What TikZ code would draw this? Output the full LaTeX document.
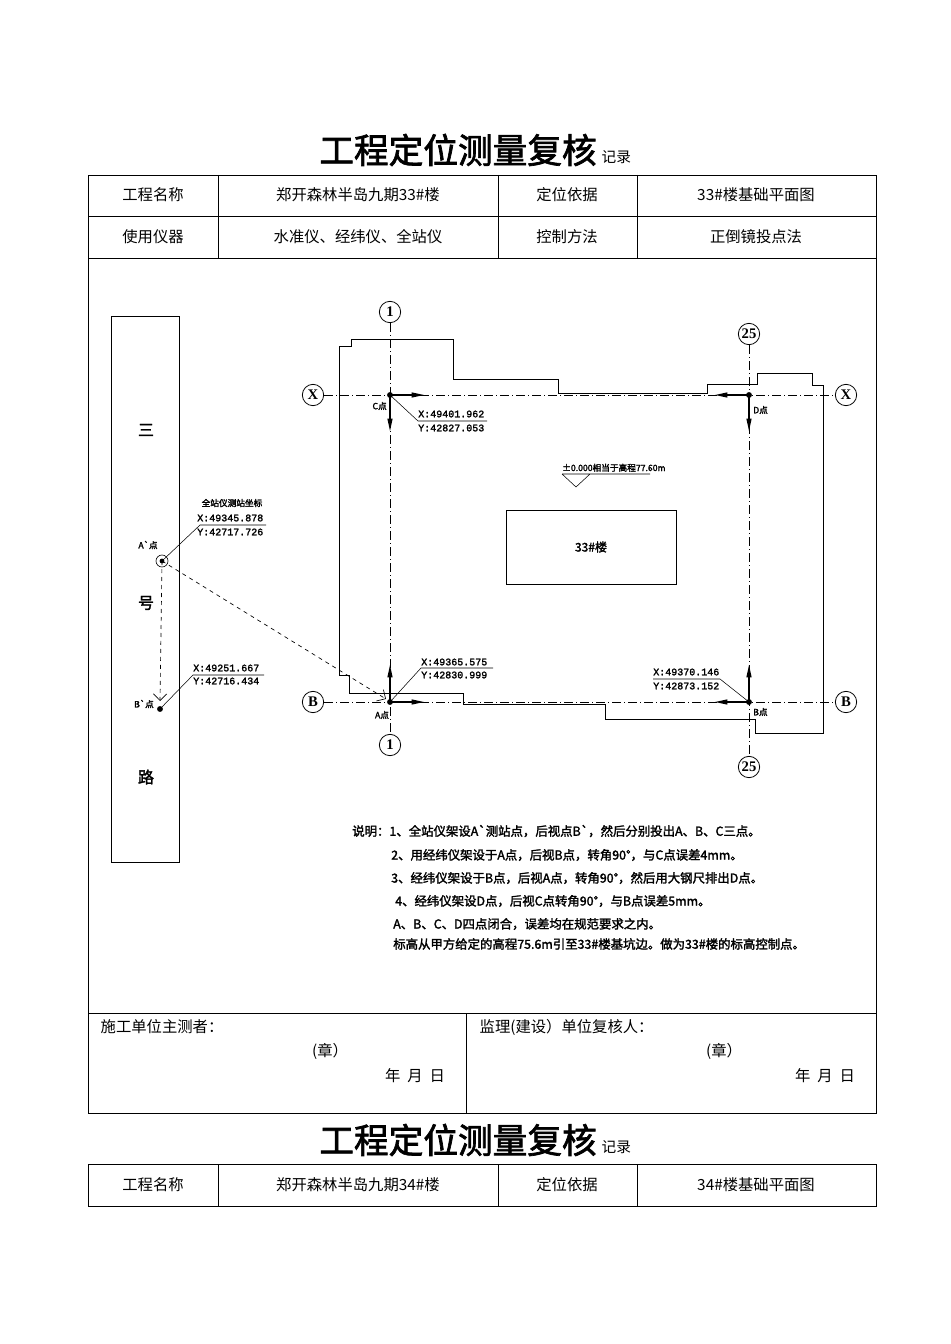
\documentclass[tikz,border=0pt]{standalone}
\usepackage{fontspec}
\setmainfont{Noto Sans CJK SC}[AutoFakeBold=2]
\newfontfamily\cmono{Liberation Mono}[AutoFakeBold=2]
\newfontfamily\cserif{Liberation Serif}
\usetikzlibrary{arrows.meta}
\begin{document}
\begin{tikzpicture}[x=0.75pt,y=-0.75pt,
  tline/.style={line width=0.6pt},
  cell/.style={font=\fontsize{11.5}{12}\selectfont},
  axis/.style={dash pattern=on 7pt off 2pt on 1pt off 2pt, line width=0.4pt},
  bub/.style={circle,draw,line width=0.6pt,minimum size=16pt,inner sep=0pt,font=\cserif\bfseries\fontsize{11}{11}\selectfont},
  outl/.style={line width=0.7pt},
  coord/.style={font=\cmono\bfseries\fontsize{7.5}{8}\selectfont,inner sep=0pt,anchor=west},
  small/.style={font=\bfseries\fontsize{6.5}{7}\selectfont,inner sep=0pt},
  arr/.style={-{Triangle[length=10pt,width=3.5pt]},line width=1.5pt},
  note/.style={font=\bfseries\fontsize{9.3}{10}\selectfont,anchor=west,inner sep=0pt}]
\useasboundingbox (0,0) rectangle (950,1344);
% titles
\node (t1) at (458,150) {\bfseries\fontsize{26}{28}\selectfont 工程定位测量复核};
\node[anchor=west,inner sep=0pt] (t1b) at (t1.east|-0,157) {\fontsize{11}{12}\selectfont 记录};
% table 1
\draw[tline] (88,175) rectangle (876,1113);
\draw[tline] (88,216)--(876,216) (88,258)--(876,258) (88,1013)--(876,1013);
\draw[tline] (218,175)--(218,258) (498,175)--(498,258) (637,175)--(637,258) (466,1013)--(466,1113);
\node[cell] (a1) at (153,195) {工程名称};
\node[cell] (a2) at (358,195) {郑开森林半岛九期33\#楼};
\node[cell] (a3) at (567,195) {定位依据};
\node[cell] (a4) at (756,195) {33\#楼基础平面图};
\node[cell] (b1) at (153,237) {使用仪器};
\node[cell] (b2) at (358,237) {水准仪、经纬仪、全站仪};
\node[cell] (b3) at (567,237) {控制方法};
\node[cell] (b4) at (756,237) {正倒镜投点法};
\node[cell,anchor=west] (s1) at (96,1027) {施工单位主测者：};
\node[cell] (s2) at (330,1051) {(章）};
\node[cell] (s3) at (415,1076) {年\ \ 月\ \ 日};
\node[cell,anchor=west] (s4) at (475,1027) {监理(建设）单位复核人：};
\node[cell] (s5) at (724,1051) {(章）};
\node[cell] (s6) at (825,1076) {年\ \ 月\ \ 日};
% title 2 & table 2
\node (t2) at (458,1140) {\bfseries\fontsize{26}{28}\selectfont 工程定位测量复核};
\node[anchor=west,inner sep=0pt] (t2b) at (t2.east|-0,1147) {\fontsize{11}{12}\selectfont 记录};
\draw[tline] (88,1164) rectangle (876,1206);
\draw[tline] (218,1164)--(218,1206) (498,1164)--(498,1206) (637,1164)--(637,1206);
\node[cell] (c1) at (153,1185) {工程名称};
\node[cell] (c2) at (358,1185) {郑开森林半岛九期34\#楼};
\node[cell] (c3) at (567,1185) {定位依据};
\node[cell] (c4) at (756,1185) {34\#楼基础平面图};
% road
\draw[line width=0.7pt] (111,316) rectangle (179,862);
\node[font=\bfseries\fontsize{12}{12}\selectfont] (r1) at (146,430) {三};
\node[font=\bfseries\fontsize{12}{12}\selectfont] (r2) at (146,603) {号};
\node[font=\bfseries\fontsize{12}{12}\selectfont] (r3) at (146,777) {路};
% axes
\node[bub] (g1t) at (390,312) {1};
\node[bub] (g1b) at (390,745) {1};
\node[bub] (g25t) at (749,334) {25};
\node[bub] (g25b) at (749,767) {25};
\node[bub] (gxl) at (313,395) {X};
\node[bub] (gxr) at (846,395) {X};
\node[bub] (gbl) at (313,702) {B};
\node[bub] (gbr) at (846,702) {B};
\draw[axis] (g1t)--(g1b); \draw[axis] (g25t)--(g25b);
\draw[axis] (gxl)--(gxr); \draw[axis] (gbl)--(gbr);
% outline
\draw[outl] (339,675)--(339,346)--(351,346)--(351,339)--(453,339)--(453,379)--(558,379)--(558,393)--(707,393)--(707,384)--(757,384)--(757,373)--(812,373)--(812,385)--(823,385)--(823,733)--(755,733)--(755,719)--(605,719)--(605,704)--(463,704)--(463,693)--(349,693)--(349,675)--cycle;
% points
\coordinate (C) at (390,395); \coordinate (D) at (749,395);
\coordinate (A) at (390,702); \coordinate (B) at (749,702);
\fill (C) circle (2.2pt); \fill (D) circle (2.2pt); \fill (A) circle (2.2pt); \fill (B) circle (2.2pt);
\draw[arr] (C)--(425,395); \draw[arr] (C)--(390,432);
\draw[arr] (D)--(714,395); \draw[arr] (D)--(749,432);
\draw[arr] (A)--(425,702); \draw[arr] (A)--(390,664);
\draw[arr] (B)--(714,702); \draw[arr] (B)--(749,664);
\node[small,anchor=east] (lc) at (387,406) {C点};
\node[small,anchor=west] (ld) at (753,410) {D点};
\node[small] (la) at (382,715) {A点};
\node[small,anchor=west] (lb) at (753,712) {B点};
% coordinate labels
\draw[line width=0.4pt] (C)--(418,421)--(487,421);
\node[coord] (cx) at (418,414) {X:49401.962};
\node[coord] (cy) at (418,428) {Y:42827.053};
\draw[line width=0.4pt] (A)--(421,668)--(493,668);
\node[coord] (ax) at (421,662) {X:49365.575};
\node[coord] (ay) at (421,675) {Y:42830.999};
\draw[line width=0.4pt] (B)--(720,679)--(653,679);
\node[coord] (bx) at (653,672) {X:49370.146};
\node[coord] (by) at (653,686) {Y:42873.152};
% elevation
\node[small,anchor=south west] (el) at (562,472) {±0.000相当于高程77.60m};
\draw[line width=0.4pt] (562,474)--(650,474) (562,474)--(576,487)--(590,474);
% building box
\draw[line width=0.6pt] (506,510) rectangle (676,584);
\node[font=\bfseries\fontsize{9}{9}\selectfont] (bl) at (591,547) {33\#楼};
% station points
\coordinate (Ap) at (162,561); \coordinate (Bp) at (160,709);
\draw[line width=0.5pt] (Ap) circle (4.5pt); \fill (Ap) circle (1.8pt);
\fill (Bp) circle (2.2pt);
\node[small] (lap) at (148,545) {A\textasciigrave 点};
\node[small] (lbp) at (144,704) {B\textasciigrave 点};
\draw[dashed,-{Straight Barb[length=5pt]},line width=0.5pt] (Ap)--(160,701);
\draw[dashed,-{Straight Barb[length=5pt]},line width=0.5pt] (Ap)--(386,699);
\draw[line width=0.4pt] (Ap)--(200,525)--(266,525);
\node[small] (tz) at (232,503) {全站仪测站坐标};
\node[coord] (px) at (197,518) {X:49345.878};
\node[coord] (py) at (197,532) {Y:42717.726};
\draw[line width=0.4pt] (Bp)--(193,675)--(264,675);
\node[coord] (qx) at (193,668) {X:49251.667};
\node[coord] (qy) at (193,681) {Y:42716.434};
% notes
\node[note] (n1) at (352,831) {说明：1、全站仪架设A\textasciigrave 测站点，后视点B\textasciigrave ，然后分别投出A、B、C三点。};
\node[note] (n2) at (391,855) {2、用经纬仪架设于A点，后视B点，转角90°，与C点误差4mm。};
\node[note] (n3) at (391,878) {3、经纬仪架设于B点，后视A点，转角90°，然后用大钢尺排出D点。};
\node[note] (n4) at (395,901) {4、经纬仪架设D点，后视C点转角90°，与B点误差5mm。};
\node[note] (n5) at (393,924) {A、B、C、D四点闭合，误差均在规范要求之内。};
\node[note] (n6) at (393,944) {标高从甲方给定的高程75.6m引至33\#楼基坑边。做为33\#楼的标高控制点。};
\end{tikzpicture}
\end{document}
